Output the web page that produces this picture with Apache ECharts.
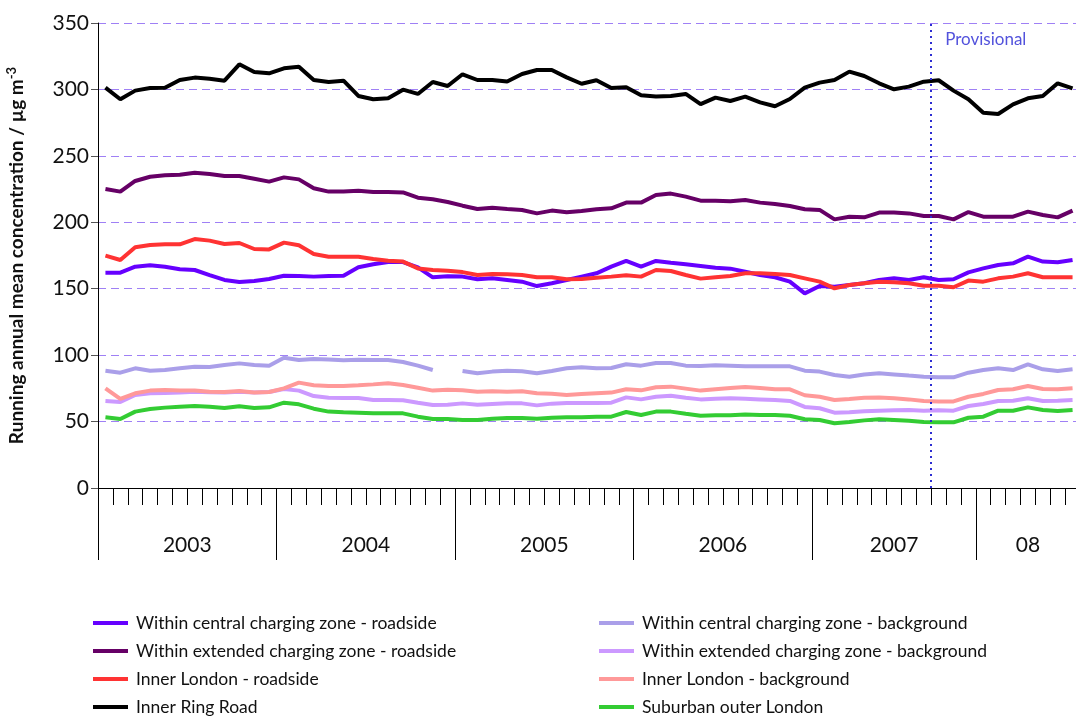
<!DOCTYPE html>
<html>
<head>
<meta charset="utf-8">
<script src="https://cdn.jsdelivr.net/npm/echarts@6/dist/echarts.min.js"></script>
<style>
  html, body { margin: 0; padding: 0; background: #fff; }
  #chart { width: 1076px; height: 720px; }
</style>
</head>
<body>
<div id="chart"></div>
<script>
// bottom axis blocks (the source has only 11 monthly points for 2007)
var yearLabels = ['2003', '2004', '2005', '2006', '2007', '08'];
var monthsPerYear = [12, 12, 12, 12, 11, 7];
var provisionalFrom = 56; // first provisional month (index)

// running annual mean, µg m-3, one value per month
var centralRoadside = [162.1, 162.1, 166.6, 167.6, 166.6, 164.6, 164.1, 160.3, 156.6, 155.1, 155.8, 157.3,
  159.8, 159.6, 159.1, 159.6, 159.8, 166.1, 168.4, 170.1, 170.1, 166.1, 158.6, 159.3,
  159.1, 157.1, 157.8, 156.6, 155.3, 152.0, 154.1, 156.6, 159.1, 161.6, 166.6, 170.9,
  166.6, 170.9, 169.6, 168.4, 167.1, 165.8, 165.1, 162.8, 160.3, 158.6, 155.3, 146.5,
  152.0, 151.5, 152.8, 154.1, 156.6, 157.8, 156.6, 158.6, 156.6, 157.1, 162.3,
  165.3, 167.9, 169.1, 174.1, 170.4, 169.9, 171.6];
var centralBackground = [88.3, 86.8, 90.1, 88.3, 88.8, 90.1, 91.3, 91.1, 92.6, 93.8, 92.6, 92.1,
  98.1, 96.3, 97.1, 96.8, 96.1, 96.6, 96.3, 96.3, 94.8, 92.1, 88.8, null,
  88.1, 86.3, 87.6, 88.3, 87.8, 86.3, 88.1, 90.1, 90.8, 90.1, 90.3, 93.1,
  92.1, 94.1, 94.1, 92.1, 91.8, 92.3, 92.1, 91.6, 91.6, 91.6, 91.6, 88.3,
  87.6, 85.1, 83.8, 85.5, 86.3, 85.5, 84.6, 83.8, 83.3, 83.3, 86.8,
  88.8, 90.1, 88.8, 93.1, 89.3, 88.1, 89.3];
var extendedRoadside = [225.1, 223.1, 231.1, 234.3, 235.4, 235.8, 237.3, 236.4, 234.8, 234.8, 232.8, 230.6,
  233.8, 232.3, 225.6, 223.1, 223.1, 223.8, 222.8, 222.8, 222.5, 218.5, 217.3, 215.3,
  212.5, 210.0, 211.0, 210.0, 209.3, 206.7, 208.8, 207.5, 208.5, 209.8, 210.5, 214.8,
  214.8, 220.5, 221.6, 219.3, 216.3, 216.3, 215.8, 216.8, 214.8, 213.8, 212.3, 209.8,
  209.3, 202.2, 204.2, 203.7, 207.3, 207.3, 206.7, 204.7, 204.7, 202.2, 207.7,
  204.2, 204.2, 204.2, 208.0, 205.5, 203.7, 208.8];
var extendedBackground = [65.5, 64.7, 70.0, 71.3, 71.5, 71.8, 72.5, 72.0, 71.8, 72.5, 71.8, 72.3,
  74.5, 73.3, 69.2, 68.0, 67.7, 67.7, 66.2, 66.2, 66.0, 64.2, 62.5, 62.7,
  63.7, 62.7, 63.2, 63.7, 63.7, 62.2, 63.5, 64.0, 64.0, 64.0, 64.2, 68.2,
  66.7, 68.7, 69.5, 68.0, 66.7, 67.2, 67.5, 67.2, 66.7, 66.2, 65.5, 61.0,
  60.0, 56.7, 57.0, 57.7, 58.2, 58.5, 58.7, 58.2, 58.5, 58.2, 61.7,
  63.2, 65.5, 65.7, 67.5, 65.5, 65.7, 66.2];
var innerRoadside = [174.9, 171.6, 181.2, 182.9, 183.4, 183.4, 187.4, 186.2, 183.7, 184.4, 179.9, 179.6,
  184.7, 182.7, 176.1, 174.1, 174.1, 174.1, 172.4, 171.1, 170.4, 165.3, 164.1, 163.6,
  162.5, 160.3, 161.1, 160.8, 160.3, 158.6, 158.6, 157.1, 157.3, 158.3, 159.1, 160.1,
  159.1, 164.1, 163.3, 160.3, 157.6, 158.6, 159.6, 161.6, 161.6, 161.1, 160.3, 157.8,
  155.3, 150.3, 152.8, 154.1, 155.3, 154.8, 154.1, 152.3, 152.3, 151.1, 156.1,
  155.3, 157.8, 159.1, 161.6, 158.6, 158.6, 158.6];
var innerBackground = [75.0, 67.0, 71.3, 73.3, 73.8, 73.3, 73.3, 72.5, 72.3, 73.0, 71.8, 72.3,
  75.0, 79.3, 77.3, 76.8, 76.8, 77.3, 78.0, 78.8, 77.5, 75.5, 73.3, 74.0,
  73.5, 72.5, 72.8, 72.5, 72.8, 71.3, 71.0, 70.0, 70.8, 71.3, 71.8, 74.3,
  73.5, 75.8, 76.3, 74.8, 73.3, 74.3, 75.3, 76.0, 75.3, 74.3, 74.3, 69.8,
  68.7, 66.2, 67.0, 68.0, 68.2, 67.5, 66.7, 65.5, 65.2, 65.2, 68.7,
  70.8, 73.8, 74.3, 76.8, 74.5, 74.3, 75.0];
var innerRingRoad = [301.3, 292.6, 299.1, 301.1, 301.3, 307.1, 308.9, 308.1, 306.6, 318.9, 313.1, 312.1,
  315.9, 317.1, 307.1, 305.6, 306.6, 295.1, 292.6, 293.3, 299.8, 296.6, 305.6, 302.6,
  311.4, 307.1, 307.1, 305.9, 311.6, 314.6, 314.6, 309.1, 304.3, 306.9, 301.1, 301.6,
  295.6, 294.6, 295.1, 296.6, 289.0, 293.8, 291.3, 294.6, 290.3, 287.3, 292.8, 301.3,
  305.1, 307.1, 313.4, 310.1, 304.6, 300.1, 302.1, 305.8, 306.9, 299.1, 292.6,
  282.5, 281.5, 288.8, 293.3, 295.1, 304.6, 300.8];
var suburbanOuter = [53.2, 51.9, 57.5, 59.5, 60.5, 61.2, 61.7, 61.2, 60.2, 61.5, 60.2, 60.7,
  64.2, 63.0, 59.7, 57.5, 57.0, 56.7, 56.2, 56.2, 56.2, 53.7, 51.9, 51.9,
  51.2, 51.2, 52.2, 52.7, 52.7, 52.2, 52.9, 53.2, 53.2, 53.7, 53.7, 57.2,
  54.9, 57.5, 57.5, 55.9, 54.4, 54.7, 54.7, 55.4, 54.9, 54.9, 54.4, 51.7,
  51.2, 48.7, 49.7, 50.9, 51.7, 51.2, 50.7, 49.7, 49.4, 49.4, 52.9,
  53.7, 58.2, 58.2, 60.7, 58.7, 58.0, 58.7];

var FONT = 'Lato, "Open Sans", sans-serif';

// month categories + year block edges / centres
var categories = [];
var yearEdges = [0];
var yearMids = [];
yearLabels.forEach(function (y, k) {
  var start = yearEdges[yearEdges.length - 1];
  for (var m = 0; m < monthsPerYear[k]; m++) {
    categories.push(y + '-' + (m + 1));
  }
  yearMids.push(start + monthsPerYear[k] / 2);
  yearEdges.push(start + monthsPerYear[k]);
});
var totalMonths = yearEdges[yearEdges.length - 1];

// drawing order as in the source (row by row of the legend)
var lines = [
  { name: 'Within central charging zone - roadside', data: centralRoadside, color: '#6600ff' },
  { name: 'Within central charging zone - background', data: centralBackground, color: '#aa9fe9' },
  { name: 'Within extended charging zone - roadside', data: extendedRoadside, color: '#660066' },
  { name: 'Within extended charging zone - background', data: extendedBackground, color: '#cc99ff' },
  { name: 'Inner London - roadside', data: innerRoadside, color: '#ff3333' },
  { name: 'Inner London - background', data: innerBackground, color: '#ff9999' },
  { name: 'Inner Ring Road', data: innerRingRoad, color: '#000000' },
  { name: 'Suburban outer London', data: suburbanOuter, color: '#33cc33' }
];

var series = lines.map(function (l) {
  return {
    name: l.name,
    type: 'line',
    data: l.data,
    symbol: 'none',
    connectNulls: false,
    color: l.color,
    lineStyle: { color: l.color, width: 4 },
    emphasis: { disabled: true }
  };
});

// dotted "provisional" marker, on the month-count axis so it sits on a tick
series.push({
  type: 'line',
  xAxisIndex: 1,
  data: [],
  silent: true,
  markLine: {
    silent: true,
    symbol: ['none', 'none'],
    label: { show: false },
    lineStyle: { color: '#2d2dd2', type: [2, 4], width: 2 },
    data: [{ xAxis: provisionalFrom }]
  }
});

function legendBlock(names, left) {
  return {
    data: names,
    left: left,
    top: 608,
    height: 140,
    orient: 'vertical',
    icon: 'rect',
    itemWidth: 35,
    itemHeight: 4,
    itemGap: 8,
    selectedMode: false,
    textStyle: { fontFamily: FONT, fontSize: 17.5, color: '#111', lineHeight: 20, padding: [0, 0, 0, 3] }
  };
}

var chart = echarts.init(document.getElementById('chart'));

var option = {
  animation: false,
  textStyle: { fontFamily: FONT },
  grid: { left: 98, top: 23, right: -4, bottom: 232, outerBoundsMode: 'none', containLabel: false },
  legend: [
    legendBlock([lines[0].name, lines[2].name, lines[4].name, lines[6].name], 88),
    legendBlock([lines[1].name, lines[3].name, lines[5].name, lines[7].name], 594)
  ],
  xAxis: [
    {
      type: 'category',
      data: categories,
      boundaryGap: true,
      axisLine: { lineStyle: { color: '#000', width: 1 } },
      axisTick: { show: true, interval: 0, length: 17, lineStyle: { color: '#000' } },
      axisLabel: { show: false },
      splitLine: { show: false }
    },
    {
      type: 'value',
      min: 0,
      max: totalMonths,
      position: 'bottom',
      axisLine: { show: false },
      axisTick: { show: true, length: 72, customValues: yearEdges, lineStyle: { color: '#000' } },
      axisLabel: {
        show: true,
        customValues: yearMids,
        margin: 47,
        fontSize: 21,
        color: '#111',
        fontFamily: FONT,
        formatter: function (v) { return yearLabels[yearMids.indexOf(v)]; }
      },
      splitLine: { show: false }
    }
  ],
  yAxis: {
    type: 'value',
    min: 0,
    max: 350,
    interval: 50,
    name: 'Running annual mean concentration / µg m{sup|-3}',
    nameLocation: 'middle',
    nameGap: 69,
    nameRotate: 90,
    nameTextStyle: {
      fontFamily: FONT,
      fontSize: 19,
      fontWeight: 'bold',
      color: '#111',
      rich: {
        sup: { fontFamily: FONT, fontSize: 13, fontWeight: 'bold', color: '#111', padding: [0, 0, 11, 0] }
      }
    },
    axisLine: { show: true, lineStyle: { color: '#000', width: 1 } },
    axisTick: { show: true, length: 7, lineStyle: { color: '#555' } },
    axisLabel: { margin: 9, fontSize: 21, color: '#111', fontFamily: FONT },
    splitLine: { show: true, lineStyle: { color: '#9f80f5', type: [8, 5], width: 1 } }
  },
  series: series
};

chart.setOption(option);

// label next to the provisional marker
var px = chart.convertToPixel({ xAxisIndex: 1 }, provisionalFrom);
chart.setOption({
  graphic: [{
    type: 'text',
    x: px + 14,
    y: 31,
    style: { text: 'Provisional', fill: '#5252dc', font: '17px ' + FONT }
  }]
});

window.addEventListener('resize', function () { chart.resize(); });
</script>
</body>
</html>
